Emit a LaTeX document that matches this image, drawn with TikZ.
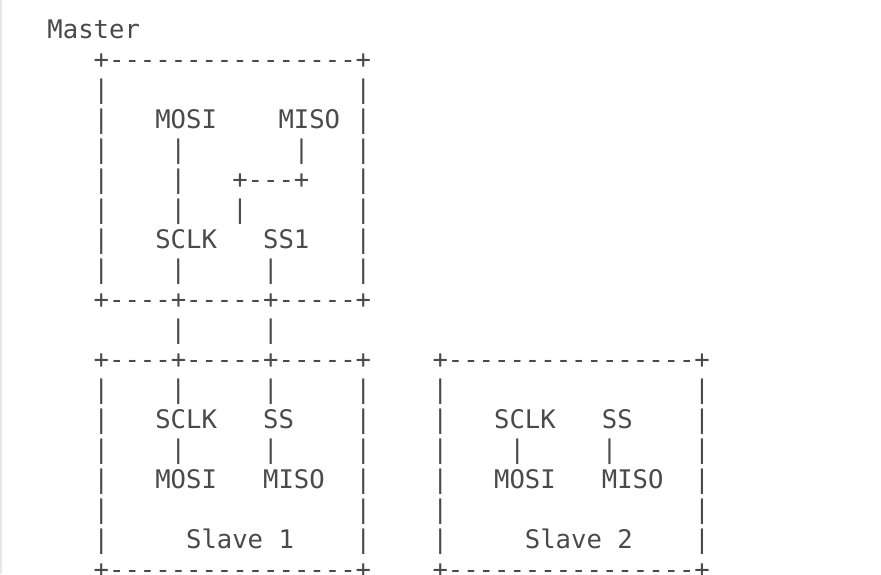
\documentclass[tikz,border=0pt]{standalone}
\usepackage{fontspec}
\newfontfamily\asciifont{DejaVu Sans Mono}[Ligatures=TeXOff]
\definecolor{asciigray}{HTML}{4A4A4A}
\definecolor{edgegray}{HTML}{E8E8E8}

\begin{document}
\begin{tikzpicture}[x=15.4pt,y=-30pt,
  ch/.style={font=\fontsize{25.6}{30}\selectfont\asciifont,text=asciigray,inner sep=0pt,anchor=base west}]
  \useasboundingbox[fill=white] (-47.3pt,38.3pt) rectangle (833.7pt,-535.7pt);
  \fill[edgegray] (-47.3pt,38.3pt) rectangle (-45.6pt,-535.7pt);
  % master
  \node[ch] (mtitle) at (0,0) {Master};
  \node[ch] (mtop) at (3,1) {+----------------+};
  \foreach \r in {2,...,8} {
    \node[ch] (ml\r) at (3,\r) {|}; \node[ch] (mr\r) at (20,\r) {|};
  }
  \node[ch] (mmosi) at (7,3) {MOSI}; \node[ch] (mmiso) at (15,3) {MISO};
  \foreach \r in {4,5,6} \node[ch] (mv\r) at (8,\r) {|};
  \node[ch] (mv7) at (16,4) {|};
  \node[ch] (mjoin) at (12,5) {+---+};
  \node[ch] (mv8) at (12,6) {|};
  \node[ch] (msclk) at (7,7) {SCLK}; \node[ch] (mss) at (14,7) {SS1};
  \node[ch] (mv9) at (8,8) {|}; \node[ch] (mv10) at (14,8) {|};
  \node[ch] (mbot) at (3,9) {+----+-----+-----+};
  % bus
  \node[ch] (bsclk) at (8,10) {|}; \node[ch] (bss) at (14,10) {|};
  % slave 1
  \node[ch] (atop) at (3,11) {+----+-----+-----+};
  \foreach \r in {12,...,17} {
    \node[ch] (al\r) at (3,\r) {|}; \node[ch] (ar\r) at (20,\r) {|};
  }
  \node[ch] (av1) at (8,12) {|}; \node[ch] (av2) at (14,12) {|};
  \node[ch] (asclk) at (7,13) {SCLK}; \node[ch] (ass) at (14,13) {SS};
  \node[ch] (av3) at (8,14) {|}; \node[ch] (av4) at (14,14) {|};
  \node[ch] (amosi) at (7,15) {MOSI}; \node[ch] (amiso) at (14,15) {MISO};
  \node[ch] (aname) at (9,17) {Slave 1};
  \node[ch] (abot) at (3,18) {+----------------+};
  % slave 2
  \node[ch] (btop) at (25,11) {+----------------+};
  \foreach \r in {12,...,17} {
    \node[ch] (bl\r) at (25,\r) {|}; \node[ch] (br\r) at (42,\r) {|};
  }
  \node[ch] (bsclk) at (29,13) {SCLK}; \node[ch] (bss) at (36,13) {SS};
  \node[ch] (bv1) at (30,14) {|}; \node[ch] (bv2) at (36,14) {|};
  \node[ch] (bmosi) at (29,15) {MOSI}; \node[ch] (bmiso) at (36,15) {MISO};
  \node[ch] (bname) at (31,17) {Slave 2};
  \node[ch] (bbot) at (25,18) {+----------------+};
\end{tikzpicture}
\end{document}
